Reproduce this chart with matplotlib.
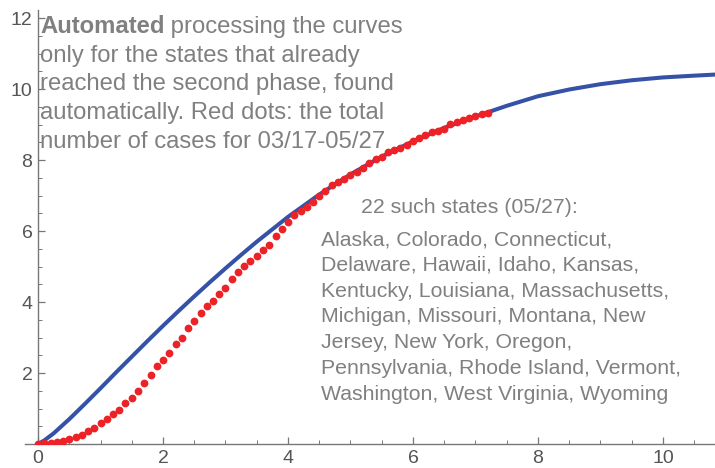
import numpy as np
import matplotlib
matplotlib.use("Agg")
import matplotlib.pyplot as plt
from matplotlib.ticker import MultipleLocator

plt.rcParams['font.family'] = ['Liberation Sans', 'DejaVu Sans']

# red dots: total cases 03/17-05/27, one dot per day (0.1 units)
red_x = [i / 10 for i in range(73)]
red_y = [0.0, 0.02, 0.03, 0.07, 0.09, 0.13, 0.19, 0.25, 0.38, 0.44,
         0.58, 0.70, 0.85, 0.96, 1.16, 1.31, 1.49, 1.71, 1.94, 2.20,
         2.37, 2.57, 2.81, 3.00, 3.26, 3.47, 3.68, 3.90, 4.04, 4.23,
         4.41, 4.64, 4.84, 5.02, 5.16, 5.31, 5.46, 5.62, 5.86, 6.07,
         6.26, 6.45, 6.56, 6.69, 6.83, 6.99, 7.14, 7.30, 7.39, 7.46,
         7.58, 7.67, 7.79, 7.91, 8.02, 8.10, 8.22, 8.28, 8.35, 8.42,
         8.54, 8.61, 8.70, 8.78, 8.82, 8.89, 9.01, 9.08, 9.13, 9.20,
         9.25, 9.30, 9.34]

# blue: fitted curve
fit_x = [0, 0.1, 0.25, 0.5, 0.75, 1.0, 1.25, 1.5, 1.75, 2.0, 2.25, 2.5, 2.75,
         3.0, 3.25, 3.5, 3.75, 4.0, 4.5, 5.0, 5.5, 6.0, 6.5, 7.0, 7.5,
         8.0, 8.5, 9.0, 9.5, 10.0, 10.5, 10.83]
fit_y = [0, 0.10, 0.30, 0.70, 1.13, 1.57, 2.02, 2.46, 2.90, 3.33, 3.75, 4.16, 4.56,
         4.95, 5.33, 5.70, 6.05, 6.40, 7.03, 7.60, 8.10, 8.53, 8.91, 9.23, 9.53,
         9.80, 9.99, 10.14, 10.25, 10.33, 10.38, 10.41]

xticks = [0, 2, 4, 6, 8, 10]
yticks = [2, 4, 6, 8, 10, 12]

note_lines = ["only for the states that already",
              "reached the second phase, found",
              "automatically. Red dots: the total",
              "number of cases for 03/17-05/27"]
states_head = "22 such states (05/27):"
states_lines = ["Alaska, Colorado, Connecticut,",
                "Delaware, Hawaii, Idaho, Kansas,",
                "Kentucky, Louisiana, Massachusetts,",
                "Michigan, Missouri, Montana, New",
                "Jersey, New York, Oregon,",
                "Pennsylvania, Rhode Island, Vermont,",
                "Washington, West Virginia, Wyoming"]

W, H = 715, 468
fig = plt.figure(figsize=(W / 100, H / 100), dpi=100)
ax = fig.add_axes([25 / W, 24 / H, 690 / W, 434 / H])
ax.set_xlim(-0.208, 10.832)
ax.set_ylim(0, 12.23)

ax.plot(fit_x, fit_y, color='#3452a6', lw=2.9, solid_capstyle='round', zorder=2)
ax.plot(red_x, red_y, 'o', color='#ec2227', ms=5.6, mec='none', zorder=3)

# mathematica-like axes
for s in ['top', 'right']:
    ax.spines[s].set_visible(False)
ax.spines['left'].set_position(('data', 0))
for s in ['left', 'bottom']:
    ax.spines[s].set_color('#777777')
    ax.spines[s].set_linewidth(1.0)
ax.set_xticks(xticks)
ax.set_yticks(yticks)
ax.xaxis.set_minor_locator(MultipleLocator(0.5))
ax.yaxis.set_minor_locator(MultipleLocator(0.5))
ax.tick_params(which='both', direction='in', colors='#777777', labelcolor='#555555',
               labelsize=14)
ax.tick_params(which='major', length=5, width=0.9, pad=4)
ax.tick_params(which='minor', length=3, width=0.7)

gray = '#808080'


def ftext(x, y, s, **kw):
    return fig.text(x / W, 1 - y / H, s, color=gray, va='baseline', **kw)


t = ftext(40, 33, "Automated", fontsize=17.2, fontweight='bold')
ax.annotate(" processing the curves", xy=(1, 0), xycoords=t, va='bottom',
            fontsize=17.2, color=gray)
for i, line in enumerate(note_lines):
    ftext(40, 33 + 28.7 * (i + 1), line, fontsize=17.2)

ftext(361, 213, states_head, fontsize=15.3)
for i, line in enumerate(states_lines):
    ftext(321, 245 + 25.8 * i, line, fontsize=15.3)

fig.savefig('out.png', dpi=100)
